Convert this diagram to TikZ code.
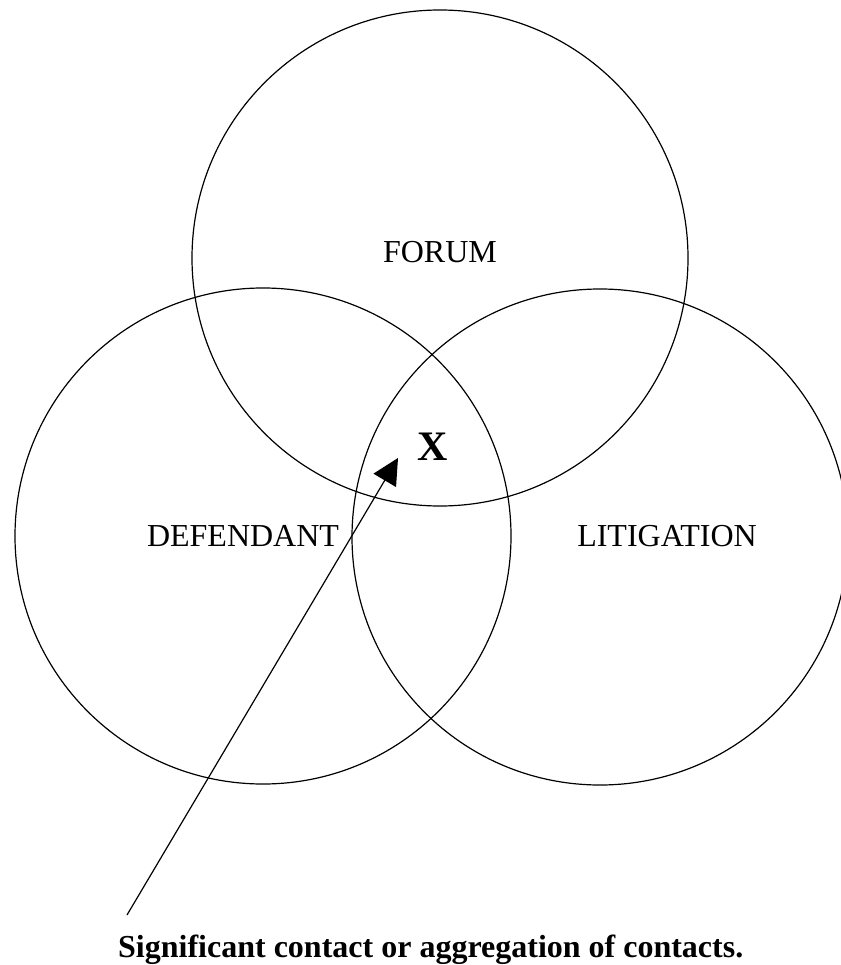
\documentclass[tikz,border=0pt]{standalone}
\usepackage{fontspec}
\setmainfont{Liberation Serif}
\usetikzlibrary{arrows.meta}
\begin{document}
\begin{tikzpicture}[x=1pt,y=-1pt,
  venn/.style={circle,draw,line width=1.2pt,minimum size=496pt,inner sep=0pt},
  lbl/.style={font=\fontsize{32}{38}\selectfont,inner sep=0pt,anchor=base},
  xmark/.style={font=\fontsize{42}{48}\selectfont\bfseries,inner sep=0pt,anchor=base},
  note/.style={font=\fontsize{32}{38}\selectfont\bfseries,inner sep=0pt,anchor=base west},
  pointer/.style={line width=1.2pt,-{Triangle[length=26pt,width=26pt]}}]
\useasboundingbox (0,0) rectangle (840,965);
\node[venn] (forum) at (440,258) {};
\node[venn] (defendant) at (263,536) {};
\node[venn] (litigation) at (600,537) {};
\node[lbl] (tforum) at (440,262) {FORUM};
\node[lbl] (tdef) at (243,546) {DEFENDANT};
\node[lbl] (tlit) at (667,546) {LITIGATION};
\node[xmark] (x) at (433,460) {X};
\node[note] (caption) at (118,957) {Significant contact or aggregation of contacts.};
\coordinate (start) at (127,915);
\coordinate (tip) at (398,458);
\draw[pointer] (start) -- (tip);
\end{tikzpicture}
\end{document}
